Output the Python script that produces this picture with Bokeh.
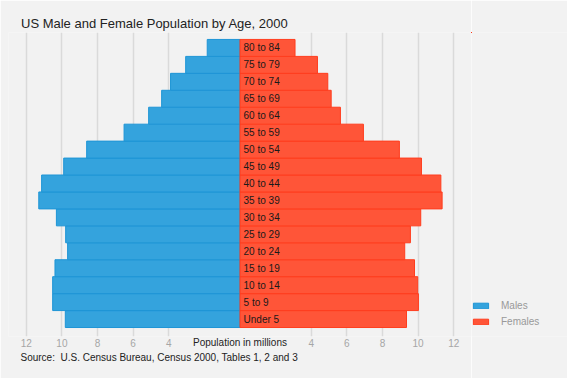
from bokeh.plotting import figure
from bokeh.layouts import row
from bokeh.models import (Range1d, FixedTicker, CustomJSTickFormatter, Title,
                          Legend, LegendItem, ColumnDataSource)
from bokeh.core.properties import value
from bokeh.embed import file_html
from bokeh.resources import INLINE

# ---- data (millions) ----
age_groups = ["Under 5", "5 to 9", "10 to 14", "15 to 19", "20 to 24", "25 to 29",
              "30 to 34", "35 to 39", "40 to 44", "45 to 49", "50 to 54", "55 to 59",
              "60 to 64", "65 to 69", "70 to 74", "75 to 79", "80 to 84"]
males = [9.81, 10.52, 10.52, 10.39, 9.68, 9.79, 10.31, 11.30, 11.14, 9.90, 8.61,
         6.51, 5.13, 4.40, 3.90, 3.05, 1.84]
females = [9.35, 10.02, 9.98, 9.80, 9.25, 9.57, 10.15, 11.35, 11.28, 10.19, 8.95,
           6.93, 5.64, 5.12, 4.93, 4.35, 3.09]
tick_values = [-12, -10, -8, -6, -4, 4, 6, 8, 10, 12]
series_names = ["Males", "Females"]

title_text = "US Male and Female Population by Age, 2000"
axis_title = "Population in millions"
source_text = "Source:\u00a0 U.S. Census Bureau, Census 2000, Tables 1, 2 and 3"

BG = "#f2f2f2"
FONT = "Liberation Sans"
MALE_FILL, MALE_LINE = "#34a3dd", "#1e95d6"
FEMALE_FILL, FEMALE_LINE = "#ff5538", "#ff3d1e"

rows = list(range(len(age_groups)))
src = ColumnDataSource(dict(
    y=rows,
    male_left=[-m for m in males],
    female=females,
    zero=[0] * len(rows),
    label=age_groups,
    label_x=[0.2] * len(rows),
))

# ---------------- main pyramid ----------------
p = figure(width=471, height=378, output_backend="svg", toolbar_location=None,
           x_range=Range1d(-13.0, 13.0), y_range=Range1d(-1.03, 16.91),
           y_axis_location=None, min_border_left=8, min_border_right=0,
           min_border_top=32, min_border_bottom=42)
p.background_fill_color = BG
p.border_fill_color = BG
p.outline_line_color = None

p.title.text = title_text
p.title.align = "left"
p.title.offset = 12.5
p.title.standoff = 3
p.title.text_font = FONT
p.title.text_font_size = "13px"
p.title.text_font_style = "normal"
p.title.text_color = "#222222"

p.ygrid.grid_line_color = None
p.xgrid.grid_line_color = "#dadada"
p.xgrid.grid_line_width = 1.5
p.xgrid.ticker = FixedTicker(ticks=tick_values)

ax = p.xaxis[0]
ax.ticker = FixedTicker(ticks=tick_values)
ax.formatter = CustomJSTickFormatter(code="return Math.abs(tick).toString();")
ax.axis_line_color = None
ax.major_tick_line_color = None
ax.minor_tick_line_color = None
ax.major_tick_out = 0
ax.major_tick_in = 0
ax.major_label_standoff = 2
ax.major_label_text_color = "#a6a6a6"
ax.major_label_text_font = FONT
ax.major_label_text_font_size = "10px"
ax.axis_label = axis_title
ax.axis_label_standoff = -13
ax.axis_label_text_font = FONT
ax.axis_label_text_font_size = "10px"
ax.axis_label_text_font_style = "normal"
ax.axis_label_text_color = "#222222"

p.add_layout(Title(text=source_text, align="left", offset=12, standoff=-2,
                   text_font=FONT, text_font_size="10px",
                   text_font_style="normal", text_color="#222222"), "below")

p.hbar(y="y", left="male_left", right="zero", height=1.0, source=src,
       fill_color=MALE_FILL, line_color=MALE_LINE, line_width=1)
p.hbar(y="y", left="zero", right="female", height=1.0, source=src,
       fill_color=FEMALE_FILL, line_color=FEMALE_LINE, line_width=1)

p.text(x="label_x", y="y", text="label", source=src, text_align="left",
       text_baseline="middle", text_font=value(FONT), text_font_size="10px",
       text_color="#1a1a1a")

# ---------------- legend panel (frame aligned with the pyramid's) ----------------
q = figure(width=96, height=378, output_backend="svg", toolbar_location=None,
           x_range=Range1d(50, 51), y_range=Range1d(-3, -2),
           x_axis_location=None, y_axis_location=None,
           min_border_left=0, min_border_right=0, min_border_top=0,
           min_border_bottom=0)
q.background_fill_color = BG
q.border_fill_color = BG
q.outline_line_color = None
q.xgrid.grid_line_color = None
q.ygrid.grid_line_color = None
# same series, drawn outside this panel's view: only their legend swatches show
lm = q.hbar(y="y", left="male_left", right="zero", height=1.0, source=src,
            fill_color=MALE_FILL, line_color=MALE_LINE, line_width=1)
lf = q.hbar(y="y", left="zero", right="female", height=1.0, source=src,
            fill_color=FEMALE_FILL, line_color=FEMALE_LINE, line_width=1)
legend = Legend(items=[LegendItem(label=series_names[0], renderers=[lm]),
                       LegendItem(label=series_names[1], renderers=[lf])],
                location=(0, 7), orientation="vertical",
                glyph_width=19, glyph_height=7, label_height=16,
                label_standoff=11, spacing=0, padding=0, margin=0,
                border_line_color=None, background_fill_alpha=0,
                label_text_font=FONT, label_text_font_size="10px",
                label_text_color="#999999")
q.add_layout(legend)

layout = row(p, q, spacing=0)
html = file_html(layout, INLINE)
open("out.html", "w").write(html)
